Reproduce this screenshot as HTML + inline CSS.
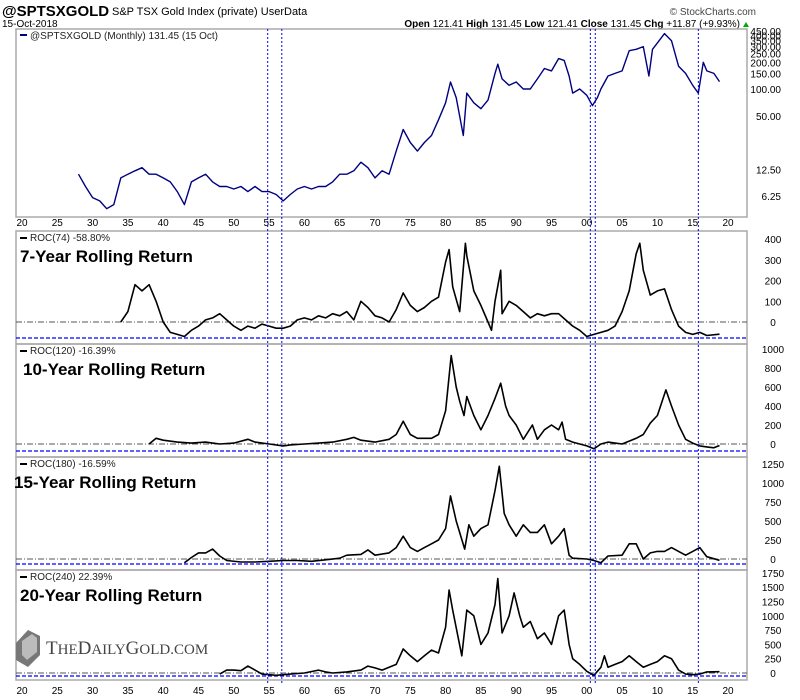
<!DOCTYPE html>
<html><head><meta charset="utf-8"><style>
body{margin:0;background:#fff;width:800px;height:700px;overflow:hidden;font-family:"Liberation Sans",sans-serif}
svg{position:absolute;left:0;top:0}
</style></head><body>
<svg id="c" width="800" height="700"></svg>
<script>
const mainYears=[1928,1929,1930,1931,1932,1933,1934,1935,1936,1937,1938,1939,1940,1941,1942,1943,1944,1945,1946,1947,1948,1949,1950,1951,1952,1953,1954,1955,1956,1957,1958,1959,1960,1961,1962,1963,1964,1965,1966,1967,1968,1969,1970,1971,1972,1973,1974,1975,1976,1977,1978,1979,1980,1980.7,1981.5,1982.5,1983,1984,1985,1986,1987,1987.4,1988,1989,1990,1991,1992,1993,1994,1995,1996,1996.8,1997.5,1998,1999,2000,2000.8,2001.5,2002,2003,2004,2005,2006,2007,2008,2008.8,2009.3,2010,2011,2012,2013,2014,2015,2015.8,2016.5,2017,2018,2018.8];
const mainVals=[11,8,6,5.5,4.5,5,10,11,12,13,11,11,10,9,7,5,9,10,11,9,8,8,7.5,8,7,8,7,7,6.5,5.5,6.5,7.5,8,7.5,8,8,9,11,11,12,15,13,10,12,11,20,35,25,20,25,30,45,70,120,80,30,90,70,60,75,150,190,130,110,120,100,100,130,170,160,220,210,140,90,100,85,65,80,100,140,150,160,270,280,300,140,280,330,420,350,180,150,110,90,200,160,150,121];
const r74Years=[1934,1935,1936,1937,1938,1939,1940,1941,1942,1943,1944,1945,1946,1947,1948,1949,1950,1951,1952,1953,1954,1955,1956,1957,1958,1959,1960,1961,1962,1963,1964,1965,1966,1967,1968,1969,1970,1971,1972,1973,1974,1975,1976,1977,1978,1979,1980,1980.5,1981,1982,1982.8,1983,1984,1985,1986,1986.5,1987,1987.8,1988,1989,1990,1991,1992,1993,1994,1995,1996,1997,1998,1999,2000,2001,2002,2003,2004,2005,2006,2007,2007.5,2008,2009,2010,2011,2012,2013,2014,2015,2016,2017,2018.8];
const r74Vals=[0,50,180,150,180,100,0,-50,-60,-70,-40,-20,10,20,40,10,-20,-40,-20,-30,-10,-20,-30,-30,-20,10,20,10,30,20,40,30,50,10,100,70,30,20,0,60,140,80,50,70,100,120,290,350,170,50,380,320,150,80,0,-40,100,250,40,100,80,50,20,40,30,40,40,10,-20,-40,-70,-60,-50,-40,-20,50,150,330,380,250,130,150,160,60,-20,-50,-60,-50,-65,-59];
const r120Years=[1938,1939,1940,1942,1944,1946,1947,1948,1950,1952,1953,1955,1957,1958,1960,1962,1964,1966,1967,1968,1970,1972,1973,1974,1975,1976,1978,1979,1980,1980.8,1981.5,1982,1982.6,1983,1984,1985,1986,1987,1987.8,1988.5,1989,1990,1991,1992.3,1993,1994,1995,1996,1996.5,1997,1998,1999,2000,2001,2002,2003,2004,2005,2006,2007,2008,2009,2010,2011.2,2012,2013,2014,2015,2016,2017,2018,2018.8];
const r120Vals=[0,60,40,20,10,20,10,0,10,50,20,0,-20,-10,0,10,20,50,70,40,20,50,100,240,100,60,60,100,350,930,600,450,300,500,300,150,300,480,640,400,300,200,50,200,50,150,200,150,230,50,20,0,-20,-50,0,20,10,0,30,60,100,220,300,570,400,200,50,10,-20,-30,-40,-16];
const r180Years=[1943,1944,1945,1946,1947,1948,1949,1951,1953,1955,1957,1959,1961,1963,1965,1966,1968,1969,1970,1972,1973,1974,1975,1976,1977,1978,1979,1980,1980.7,1981.5,1982.7,1983.3,1984,1985,1986,1987,1987.6,1988.3,1989,1990,1991,1992,1993,1994,1995,1996,1996.8,1997.5,1998,2000,2001,2002,2003,2005,2006,2007,2008,2009,2010,2011,2012,2013,2014,2015,2016,2017,2018.8];
const r180Vals=[-50,20,80,80,130,40,-20,-40,-40,-30,-20,-20,-30,-10,10,50,60,120,50,80,150,300,150,100,150,200,250,400,830,500,130,450,300,400,450,900,1220,600,450,300,450,350,350,450,200,300,400,50,10,0,-20,-50,40,50,200,200,0,80,100,100,150,100,50,100,150,30,-17];
const r240Years=[1948,1949,1950,1951,1952,1953,1954,1956,1958,1960,1962,1963,1964,1966,1968,1969,1970,1971,1972,1973,1974,1975,1976,1977,1978,1979,1980,1980.5,1981,1982.3,1983,1984,1985,1986,1987,1987.4,1988,1989,1989.7,1990.5,1991,1992,1993,1994,1995,1996,1996.8,1997.5,1998,1999,2000,2001,2002,2002.5,2003,2004,2005,2006,2007,2008,2009,2010,2011,2012,2013,2014,2015,2016,2017,2018.8];
const r240Vals=[-20,50,50,40,120,50,-20,-40,-20,0,50,20,0,20,50,120,90,50,100,150,420,300,200,300,400,350,800,1450,1100,300,1100,1000,500,700,1200,1650,700,1000,1400,1000,800,900,600,700,500,1000,1100,500,250,150,30,-40,100,300,100,150,200,300,200,100,150,200,300,250,50,-20,-30,-20,20,22];
const xTicks=[1920,1925,1930,1935,1940,1945,1950,1955,1960,1965,1970,1975,1980,1985,1990,1995,2000,2005,2010,2015,2020];
const mainTicks=[6.25,12.5,50,100,150,200,250,300,350,400,450];
const eventYears=[1954.8,1956.8,2000.5,2001.2,2015.8];

const NS='http://www.w3.org/2000/svg';
const svg=document.getElementById('c');
const L=16,R=747;
function X(y){return 22+(y-1920)*7.06;}
function el(t,a,p){const e=document.createElementNS(NS,t);for(const k in a)e.setAttribute(k,a[k]);(p||svg).appendChild(e);return e;}
function txt(s,a){const e=el('text',a);e.textContent=s;return e;}
function path(xs,vs,fy){return xs.map((y,i)=>(i?'L':'M')+X(y).toFixed(1)+' '+fy(vs[i]).toFixed(1)).join(' ');}

// header
let t;
t=txt('@SPTSXGOLD',{x:2,y:16,'font-size':15,'font-weight':'bold'});
t=txt('S&P TSX Gold Index (private)  UserData',{x:112,y:15,'font-size':11});
t=txt('15-Oct-2018',{x:2,y:27,'font-size':10});
t=txt('© StockCharts.com',{x:756,y:15,'font-size':10,'text-anchor':'end',fill:'#444'});
t=el('text',{x:740,y:27,'font-size':10,'text-anchor':'end'});t.innerHTML='<tspan font-weight="bold">Open</tspan> 121.41 <tspan font-weight="bold">High</tspan> 131.45 <tspan font-weight="bold">Low</tspan> 121.41 <tspan font-weight="bold">Close</tspan> 131.45 <tspan font-weight="bold">Chg</tspan> +11.87 (+9.93%)';

el('path',{d:'M743 27 L749 27 L746 22 Z',fill:'#0a0'});

const panels=[
 {name:'price-panel',top:29,bot:217},
 {name:'roc74-panel',top:231,bot:344,zero:322,per:0.207,dash:338,ticks:[400,300,200,100,0],xs:r74Years,vs:r74Vals,lab:'ROC(74) -58.80%',title:'7-Year Rolling Return',tx:20},
 {name:'roc120-panel',top:344,bot:457,zero:444,per:0.095,dash:451,ticks:[1000,800,600,400,200,0],xs:r120Years,vs:r120Vals,lab:'ROC(120) -16.39%',title:'10-Year Rolling Return',tx:23},
 {name:'roc180-panel',top:457,bot:570,zero:559,per:0.076,dash:564,ticks:[1250,1000,750,500,250,0],xs:r180Years,vs:r180Vals,lab:'ROC(180) -16.59%',title:'15-Year Rolling Return',tx:14},
 {name:'roc240-panel',top:570,bot:680,zero:673,per:0.0572,dash:676,ticks:[1750,1500,1250,1000,750,500,250,0],xs:r240Years,vs:r240Vals,lab:'ROC(240) 22.39%',title:'20-Year Rolling Return',tx:20}
];
panels.forEach((p,i)=>{
 const r=el('rect',{x:L,y:p.top,width:R-L,height:p.bot-p.top,fill:'none',stroke:'#aaa','stroke-width':1.5});
 
 
 if(i===0)return;
 const fy=v=>p.zero-v*p.per;
 el('line',{x1:L,x2:R,y1:p.zero,y2:p.zero,stroke:'#555','stroke-dasharray':'6 2 1 2'});
 el('line',{x1:L,x2:R,y1:p.dash,y2:p.dash,stroke:'#00f','stroke-width':1.2,'stroke-dasharray':'4 2'});
 p.ticks.forEach(v=>{const e=txt(String(v),{x:773,y:fy(v)+4,'font-size':10,'text-anchor':'middle'});});
 const ln=el('path',{d:path(p.xs,p.vs,fy),fill:'none',stroke:'#000','stroke-width':1.6,'stroke-linejoin':'round'});
 
 
 el('rect',{x:20,y:p.top+6,width:7,height:2,fill:'#000'});
 const lb=txt(p.lab,{x:30,y:p.top+10,'font-size':10,fill:'#222'});
 
 
 const tt=txt(p.title,{x:p.tx,y:p.top+31,'font-size':17,'font-weight':'bold'});
 
 
});
// price panel
const fyM=v=>89-26.75*Math.log2(v/100);
mainTicks.forEach(v=>{const e=txt(v.toFixed(2),{x:781,y:fyM(v)+4,'font-size':10,'text-anchor':'end'});});
const pl=el('path',{d:path(mainYears,mainVals,fyM),fill:'none',stroke:'#000080','stroke-width':1.4,'stroke-linejoin':'round'});


el('rect',{x:20,y:34,width:7,height:2,fill:'#000080'});
const ml=txt('@SPTSXGOLD (Monthly) 131.45 (15 Oct)',{x:30,y:39,'font-size':10,fill:'#222'});


// x axes
[226,694].forEach(yy=>xTicks.forEach(y=>{const e=txt(String(y%100).padStart(2,'0'),{x:X(y),y:yy,'font-size':10,'text-anchor':'middle'});}));
// event lines
eventYears.forEach(y=>{const e=el('line',{x1:X(y),x2:X(y),y1:29,y2:683,stroke:'#00f','stroke-width':1,'stroke-dasharray':'2 2'});});
// logo
const g=el('g',{});


el('path',{d:'M16 643 L28 630 L40 636 L40 655 L28 667 L16 660 Z',fill:'#777'},g);
el('path',{d:'M22 641 L32 634 L37 638 L37 652 L27 660 L22 655 Z',fill:'#bbb'},g);
const lt=el('text',{x:46,y:654,'font-size':19,fill:'#444','font-family':'Liberation Serif, serif'},g);
lt.innerHTML='T<tspan font-size="15">HE</tspan>D<tspan font-size="15">AILY</tspan>G<tspan font-size="15">OLD.COM</tspan>';
</script>
</body></html>
